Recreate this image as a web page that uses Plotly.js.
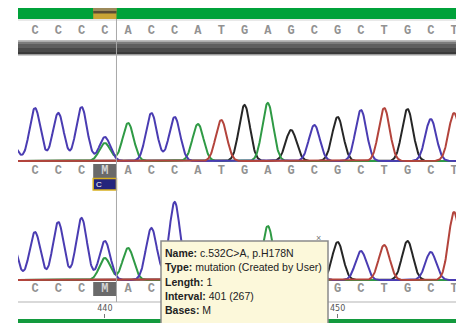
<!DOCTYPE html>
<html><head><meta charset="utf-8">
<script src="https://cdn.plot.ly/plotly-3.0.1.min.js"></script>
<style>html,body{margin:0;padding:0;background:#fff;overflow:hidden}#chart{width:456px;height:323px}</style>
</head><body><div id="chart"></div>
<script>
// ---- data ----
const basePositions = [436,437,438,439,440,441,442,443,444,445,446,447,448,449,450,451,452,453,454,455];
const refCalls    = ['C','C','C','C','C','A','C','C','A','T','G','A','G','C','G','C','T','G','C','T'];
const sampleCalls = ['C','C','C','C','M','A','C','C','A','T','G','A','G','C','G','C','T','G','C','T'];
// bottom row: the calls under the comment box are hidden in the picture
const lowerRowShown = [1,1,1,1,1,1,1,0,0,0,0,0,0,0,1,1,1,1,1,1];
// panel 1 peak heights per channel
const p1A = [0,0,0,0,18,38,0,0,37,0,0,58,0,0,0,0,0,0,0,0];
const p1C = [18,53,48,54,24,0,48,44,0,0,0,0,0,36,0,51,0,0,42,0];
const p1G = [0,0,0,0,0,0,0,0,0,0,56,0,31,0,44,0,0,52,0,0];
const p1T = [0,0,0,0,0,0,0,0,0,41,0,0,0,0,0,0,53,0,0,48];
// panel 2 peak heights per channel
const p2A = [0,0,0,0,22,32,0,0,30,0,0,54,0,0,0,0,0,0,0,0];
const p2C = [40,48,58,62,39,0,52,78,0,0,0,0,0,30,0,29,0,0,28,0];
const p2G = [0,0,0,0,0,0,0,0,0,0,35,0,30,0,38,0,0,39,0,0];
const p2T = [0,0,0,0,0,0,0,0,0,30,0,0,0,0,0,0,35,0,0,68];
const rulerTicks = [440,450];
const rulerLabels = ['440','450'];
const tipLabels = ['Name:','Type:','Length:','Interval:','Bases:'];
const tipValues = ['c.532C&gt;A, p.H178N','mutation (Created by User)','1','401 (267)','M'];

// ---- rendering helpers ----
const W=456,H=323,L=18;
const px = p => (p-L)/(W-L);
const py = p => 1 - p/H;
const sigma = 0.235;
const xs = [];
for (let x=436.2; x<=455.2; x+=0.02) xs.push(+x.toFixed(3));
function curve(h){
  return xs.map(x=>{let s=0;for(let i=0;i<basePositions.length;i++){if(h[i]){const d=x-basePositions[i];s+=h[i]*Math.exp(-d*d/(2*sigma*sigma));}}return s;});
}
const col = {A:'#2f9a45', C:'#4a3cb2', G:'#262626', T:'#b3443c'};
const traces = [];
function addPanel(hs, yax){
  [['G',hs.G],['A',hs.A],['C',hs.C],['T',hs.T]].forEach(([b,h])=>{
    traces.push({x:xs,y:curve(h),type:'scatter',mode:'lines',line:{color:col[b],width:2},xaxis:'x',yaxis:yax,hoverinfo:'skip',showlegend:false});
  });
}
addPanel({A:p1A,C:p1C,G:p1G,T:p1T},'y');
addPanel({A:p2A,C:p2C,G:p2G,T:p2T},'y2');
function letters(calls, rowY, shown){
  const idx = basePositions.map((b,i)=>i).filter(i=>!shown||shown[i]);
  traces.push({x:idx.map(i=>basePositions[i]),y:idx.map(()=>rowY),mode:'text',type:'scatter',text:idx.map(i=>calls[i]),
    textfont:{family:'Liberation Mono, monospace',size:12,weight:'bold',color:idx.map(i=>calls[i]==='M'?'#d4d4d4':'#929292')},
    xaxis:'x',yaxis:'y3',hoverinfo:'skip',showlegend:false,cliponaxis:true});
}
letters(refCalls,31);
letters(sampleCalls,171);
letters(sampleCalls,289,lowerRowShown);

const R=(x0,x1,y0,y1,fill,extra)=>Object.assign({type:'rect',xref:'paper',yref:'paper',x0:px(x0),x1:px(x1),y0:py(y1),y1:py(y0),fillcolor:fill,line:{width:0},layer:'below'},extra||{});
const RB=(b0,b1,y0,y1,fill,extra)=>Object.assign({type:'rect',xref:'x',yref:'paper',x0:b0,x1:b1,y0:py(y1),y1:py(y0),fillcolor:fill,line:{width:0},layer:'below'},extra||{});
const mb = 440;
const shapes = [
  R(18,456,8,19,'#00a23a'),
  RB(mb-0.5,mb+0.5,8,19,'#c9a535'),
  RB(mb-0.5,mb+0.5,8,11,'#9c8a5a'),
  RB(mb-0.5,mb+0.5,11,13.5,'#5a4c34'),
  R(18,456,19.5,20.5,'#d4d4d4'),
  R(18,456,40,41.5,'#bdbdbd'),
  R(18,456,41.5,44,'#7c7c7c'),
  R(18,456,44,48,'#5f5f5f'),
  R(18,456,48,52,'#4a4a4a'),
  R(18,456,52,54,'#3a3a3a'),
  R(18,456,54,55.5,'#9c9c9c'),
  RB(mb-0.5,mb+0.5,164,178,'#6a6a6a'),
  RB(mb-0.5,mb+0.5,178.5,190,'#24247c',{line:{color:'#d8b020',width:1.5}}),
  RB(mb-0.5,mb+0.5,282,296,'#6a6a6a'),
  R(18,456,301.5,302.5,'#b4b4b4'),
  R(18,456,319,323,'#139a3e'),
  {type:'line',xref:'x',yref:'paper',x0:mb+0.5,x1:mb+0.5,y0:py(302),y1:py(19),line:{color:'#a8a8a8',width:1},layer:'above'},
  R(161,328,241,324,'#fcf8da',{line:{color:'#8a8a8a',width:1.5},layer:'above'})
];
const annotations = [
  {xref:'x',yref:'paper',x:mb,xshift:-6,y:py(184),text:'C',showarrow:false,font:{family:'Liberation Sans',size:8,color:'#ffffff'}},
  {xref:'paper',yref:'paper',x:px(323),y:py(245),text:'×',showarrow:false,font:{family:'Liberation Sans',size:9,color:'#777'}}
];
const lineY=[253,267,281.5,295.5,310];
tipLabels.forEach((lab,i)=>{
  annotations.push({xref:'paper',yref:'paper',x:px(163),y:py(lineY[i]),xanchor:'left',yanchor:'middle',showarrow:false,
    text:'<b>'+lab+'</b> '+tipValues[i],font:{family:'Liberation Sans',size:10.5,color:'#222'}});
});

const layout = {
  width:W,height:H,margin:{l:L,r:0,t:0,b:0,pad:0},
  paper_bgcolor:'#ffffff',plot_bgcolor:'rgba(0,0,0,0)',showlegend:false,
  xaxis:{range:[436.27,455.084],domain:[0,1],anchor:'free',position:py(318),side:'top',
    tickvals:rulerTicks,ticktext:rulerLabels,ticks:'outside',ticklen:4,tickcolor:'#777',tickwidth:1,
    tickfont:{family:'DejaVu Sans',size:8,color:'#555'},showgrid:false,zeroline:false,showline:false,fixedrange:true},
  yaxis:{domain:[py(163),py(55)],range:[-2,106],visible:false,fixedrange:true},
  yaxis2:{domain:[py(282),py(190)],range:[-2,90],visible:false,anchor:'x',fixedrange:true},
  yaxis3:{domain:[0,1],range:[H,0],visible:false,anchor:'x',fixedrange:true},
  shapes:shapes,annotations:annotations
};
Plotly.newPlot('chart',traces,layout,{displayModeBar:false,staticPlot:true});
</script></body></html>
